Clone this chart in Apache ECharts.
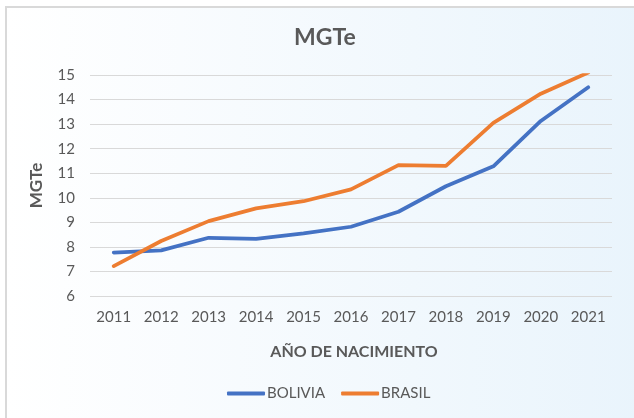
<!DOCTYPE html>
<html>
<head>
<meta charset="utf-8">
<script src="https://cdn.jsdelivr.net/npm/echarts@6/dist/echarts.min.js"></script>
<style>
  html, body { margin: 0; padding: 0; background: #ffffff; }
  #main { width: 634px; height: 418px; }
</style>
</head>
<body>
<div id="main"></div>
<script>
// datos
var years = ['2011', '2012', '2013', '2014', '2015', '2016', '2017', '2018', '2019', '2020', '2021'];
var bolivia = [7.77, 7.86, 8.37, 8.33, 8.55, 8.82, 9.43, 10.47, 11.28, 13.13, 14.5];
var brasil = [7.22, 8.24, 9.05, 9.57, 9.86, 10.34, 11.33, 11.3, 13.05, 14.24, 15.1];

var grisTexto = '#595959';
var fuente = 'Lato';

var myChart = echarts.init(document.getElementById('main'));
myChart.setOption({
    backgroundColor: '#ffffff',
    animation: false,
    textStyle: { fontFamily: fuente },
    graphic: [{
        type: 'rect',
        z: -10,
        shape: { x: 6, y: 7, width: 640, height: 420 },
        style: {
            fill: new echarts.graphic.LinearGradient(0, 0, 1, 0, [
                { offset: 0, color: '#ffffff' },
                { offset: 1, color: '#e9f4fc' }
            ]),
            stroke: '#d9d9d9',
            lineWidth: 2
        }
    }],
    title: {
        text: 'MGTe',
        left: 289,
        top: 21,
        textStyle: { fontFamily: fuente, fontSize: 23, fontWeight: 'bold', color: grisTexto }
    },
    legend: {
        bottom: 12,
        left: 222,
        itemWidth: 38,
        itemHeight: 4,
        itemGap: 16,
        icon: 'roundRect',
        textStyle: { fontFamily: fuente, fontSize: 15, color: grisTexto, padding: [0, 0, 0, -3] },
        data: ['BOLIVIA', 'BRASIL']
    },
    grid: { left: 90, right: 22, top: 75, bottom: 122 },
    xAxis: {
        type: 'category',
        data: years,
        boundaryGap: true,
        name: 'AÑO DE NACIMIENTO',
        nameLocation: 'middle',
        nameGap: 48,
        nameTextStyle: { fontFamily: fuente, fontSize: 16, fontWeight: 'bold', color: grisTexto, padding: [0, 0, 0, 6] },
        axisLine: { show: false },
        axisTick: { show: false },
        axisLabel: { fontFamily: fuente, fontSize: 15, color: grisTexto, margin: 14 }
    },
    yAxis: {
        type: 'value',
        min: 6,
        max: 15,
        interval: 1,
        name: 'MGTe',
        nameLocation: 'middle',
        nameGap: 45,
        nameRotate: 90,
        nameTextStyle: { fontFamily: fuente, fontSize: 17, fontWeight: 'bold', color: grisTexto },
        axisLine: { show: false },
        axisTick: { show: false },
        axisLabel: { fontFamily: fuente, fontSize: 15, color: grisTexto, margin: 15 },
        splitLine: { lineStyle: { color: '#d9d9d9', width: 1 } }
    },
    series: [{
        name: 'BOLIVIA',
        type: 'line',
        data: bolivia,
        showSymbol: false,
        symbol: 'none',
        clip: true,
        itemStyle: { color: '#4472c4' },
        lineStyle: { color: '#4472c4', width: 3.75, cap: 'round' }
    }, {
        name: 'BRASIL',
        type: 'line',
        data: brasil,
        showSymbol: false,
        symbol: 'none',
        clip: true,
        itemStyle: { color: '#ed7d31' },
        lineStyle: { color: '#ed7d31', width: 3.75, cap: 'round' }
    }]
});
</script>
</body>
</html>
